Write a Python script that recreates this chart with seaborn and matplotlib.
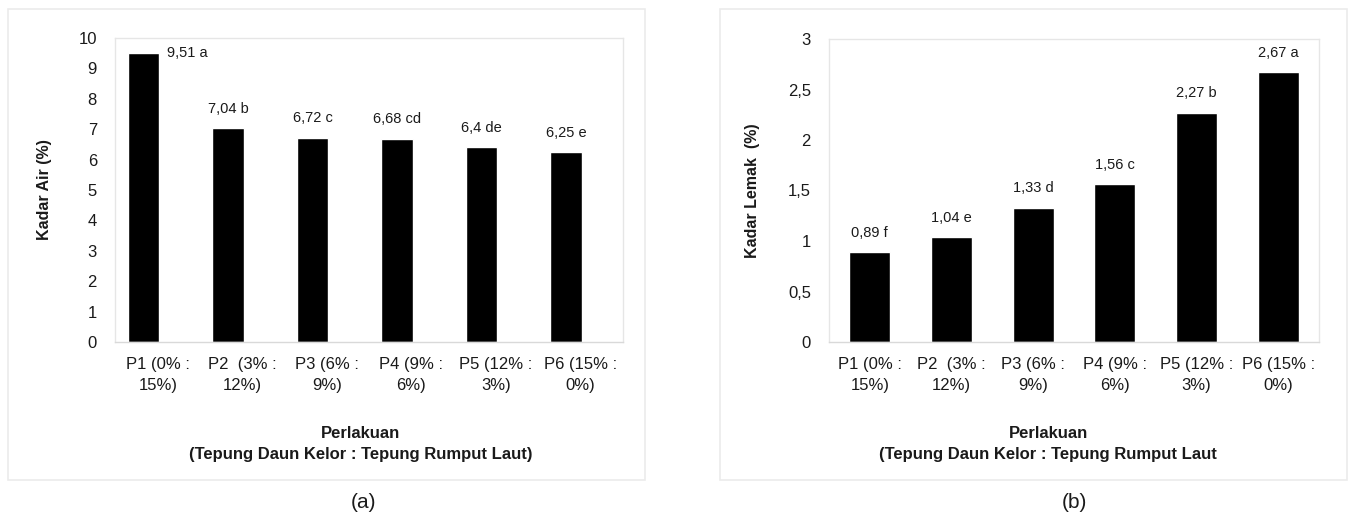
import numpy as np
import pandas as pd
import matplotlib
matplotlib.use("Agg")
import matplotlib.pyplot as plt
from matplotlib.patches import Rectangle
import seaborn as sns

# data
perlakuan = ["P1 (0% :\n15%)", "P2  (3% :\n12%)", "P3 (6% :\n9%)",
             "P4 (9% :\n6%)", "P5 (12% :\n3%)", "P6 (15% :\n0%)"]
kadar_air = [9.51, 7.04, 6.72, 6.68, 6.40, 6.25]
notasi_air = ["a", "b", "c", "cd", "de", "e"]
kadar_lemak = [0.89, 1.04, 1.33, 1.56, 2.27, 2.67]
notasi_lemak = ["f", "e", "d", "c", "b", "a"]

W, H = 1351, 515
sns.set_style("white")
plt.rcParams["font.family"] = ["Liberation Sans", "DejaVu Sans"]
TXT = "#1a1a1a"

fig = plt.figure(figsize=(W / 100, H / 100), dpi=100)


def px_box(x0, y0, x1, y1):
    # pixel box (top-left origin) -> figure fraction [l, b, w, h]
    return [x0 / W, (H - y1) / H, (x1 - x0) / W, (y1 - y0) / H]


def fmt(v):
    return f"{v:g}".replace(".", ",")


def draw_panel(ax, values, notes, width, xlim, tick_shift, ylim, yticks,
               ylabel, ylab_x, first_side=False):
    df = pd.DataFrame({"perlakuan": perlakuan, "nilai": values})
    sns.barplot(data=df, x="perlakuan", y="nilai", color="black",
                width=width, saturation=1, ax=ax)
    ax.set_xlim(*xlim)
    ax.set_ylim(*ylim)
    ax.set_yticks(yticks, [fmt(t) for t in yticks])
    ax.set_xticks(np.arange(len(perlakuan)) + tick_shift, perlakuan)
    ax.tick_params(axis="both", length=0, labelsize=12, colors=TXT)
    ax.tick_params(axis="y", pad=13)
    ax.tick_params(axis="x", pad=11)
    for lbl in ax.get_xticklabels():
        lbl.set_linespacing(1.45)
    for s in ax.spines.values():
        s.set_color("#e6e6e6")
        s.set_linewidth(1)
    ax.spines["bottom"].set_color("#d9d9d9")

    ax.set_ylabel(ylabel, fontsize=11.5, fontweight="bold", color=TXT)
    ax.yaxis.set_label_coords(ylab_x, 0.5)
    ax.set_xlabel("")

    for i, (v, n) in enumerate(zip(values, notes)):
        lab = f"{fmt(v)} {n}"
        if first_side and i == 0:
            ax.annotate(lab, (i + width / 2, v), xytext=(6, 0),
                        textcoords="offset points", ha="left", va="center",
                        fontsize=10.5, color=TXT)
        else:
            ax.annotate(lab, (i, v), xytext=(0, 14),
                        textcoords="offset points", ha="center", va="center",
                        fontsize=10.5, color=TXT)
    return ax


# panel (a)
ax1 = fig.add_axes(px_box(115, 38, 623, 342))
draw_panel(ax1, kadar_air, notasi_air, 0.37, (-0.337, 5.675), 0.17,
           (0, 10), list(range(0, 11)), "Kadar Air (%)", -0.124,
           first_side=True)

# panel (b)
ax2 = fig.add_axes(px_box(829, 39, 1319, 342))
draw_panel(ax2, kadar_lemak, notasi_lemak, 0.5, (-0.5, 5.5), 0.0,
           (0, 3), [0, 0.5, 1, 1.5, 2, 2.5, 3], "Kadar Lemak  (%)", -0.141)

# x axis titles and captions
fig.text(361 / W, 1 - 433 / H, "Perlakuan", ha="center", va="center",
         fontsize=12, fontweight="bold", color=TXT)
fig.text(361 / W, 1 - 455 / H, "(Tepung Daun Kelor : Tepung Rumput Laut)",
         ha="center", va="center", fontsize=12, fontweight="bold", color=TXT)
fig.text(1048 / W, 1 - 433 / H, "Perlakuan", ha="center", va="center",
         fontsize=12, fontweight="bold", color=TXT)
fig.text(1048 / W, 1 - 455 / H, "(Tepung Daun Kelor : Tepung Rumput Laut",
         ha="center", va="center", fontsize=12, fontweight="bold", color=TXT)
fig.text(363 / W, 1 - 503 / H, "(a)", ha="center", va="center",
         fontsize=15, color=TXT)
fig.text(1074 / W, 1 - 503 / H, "(b)", ha="center", va="center",
         fontsize=15, color=TXT)

# light chart-area borders
for x0, x1 in [(8, 645), (720, 1347)]:
    fig.patches.append(Rectangle((x0 / W, 1 - 480 / H), (x1 - x0) / W,
                                 (480 - 9) / H, transform=fig.transFigure,
                                 fill=False, edgecolor="#ebebeb", lw=1.2))

fig.savefig("out.png", dpi=100, facecolor="white")
